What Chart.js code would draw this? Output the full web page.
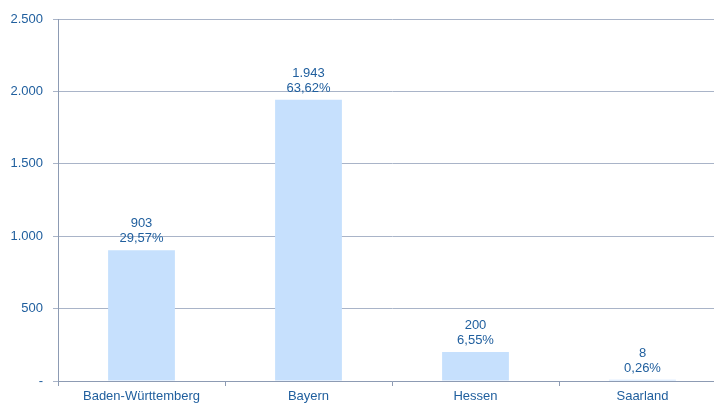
<!DOCTYPE html>
<html><head><meta charset="utf-8">
<script src="https://cdn.jsdelivr.net/npm/chart.js@4"></script>
<style>html,body{margin:0;padding:0;overflow:hidden;background:#fff}#wrap{width:726px;height:405px;position:relative}</style>
</head><body><div id="wrap"><canvas id="c"></canvas></div>
<script>
const categories = ["Baden-Württemberg", "Bayern", "Hessen", "Saarland"];
const values = [903, 1943, 200, 8];
const yTicks = [0, 500, 1000, 1500, 2000, 2500];

const total = values.reduce((a, b) => a + b, 0);
const fmt = v => v === 0 ? "-" : v.toLocaleString("de-DE");
const pct = v => (v / total * 100).toFixed(2).replace(".", ",") + "%";
const txt = "#205f9e";
const fam = "'Liberation Sans', Arial, sans-serif";

const labelPlugin = {
  id: "labels",
  afterDatasetsDraw(chart) {
    const ctx = chart.ctx;
    const meta = chart.getDatasetMeta(0);
    ctx.save();
    ctx.font = "13px " + fam;
    ctx.fillStyle = txt;
    ctx.textAlign = "center";
    ctx.textBaseline = "alphabetic";
    meta.data.forEach((bar, i) => {
      const v = values[i];
      ctx.fillText(fmt(v), bar.x, bar.y - 23);
      ctx.fillText(pct(v), bar.x, bar.y - 8);
    });
    ctx.restore();
  }
};

new Chart(document.getElementById("c"), {
  type: "bar",
  data: { labels: categories, datasets: [{ data: values, backgroundColor: "#c6e0fd", barPercentage: 0.8, categoryPercentage: 0.5 }] },
  options: {
    responsive: true, maintainAspectRatio: false, animation: false,
    layout: { padding: { top: 19, right: 0, left: 0, bottom: 0 } },
    plugins: { legend: { display: false }, tooltip: { enabled: false } },
    scales: {
      x: {
        offset: true,
        grid: { display: true, drawOnChartArea: false, offset: true, tickLength: 5, color: "#8d9bb3" },
        border: { color: "#8d9bb3", width: 1 },
        ticks: { color: txt, font: { size: 13, family: fam }, padding: 3, maxRotation: 0 },
        afterFit: s => { s.height = 24; }
      },
      y: {
        min: 0, max: 2500,
        afterBuildTicks: s => { s.ticks = yTicks.map(v => ({ value: v })); },
        grid: { color: "#a9b4c8", tickLength: 5, lineWidth: 1 },
        border: { color: "#8d9bb3", width: 1 },
        ticks: { color: txt, font: { size: 13, family: fam }, padding: 10, callback: v => fmt(v) },
        afterFit: s => { s.width = 58; }
      }
    }
  },
  plugins: [labelPlugin]
});
</script></body></html>
